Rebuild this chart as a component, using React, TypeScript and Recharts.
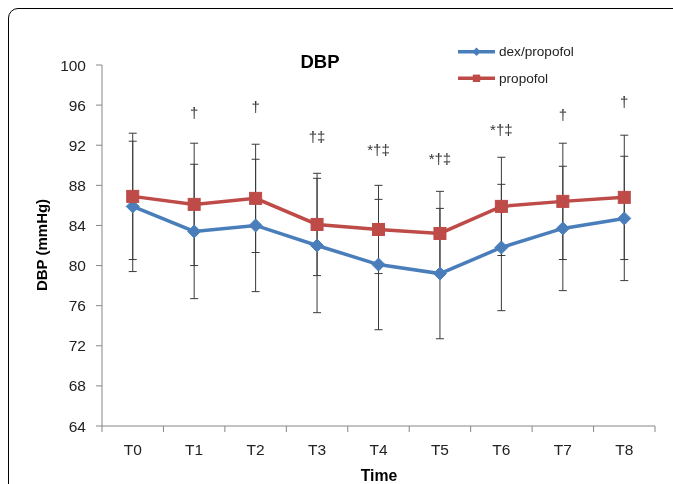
import { ComposedChart, Line, XAxis, YAxis, ErrorBar } from 'recharts';

const timeLabels = ['T0', 'T1', 'T2', 'T3', 'T4', 'T5', 'T6', 'T7', 'T8'];
const dexMean = [85.9, 83.4, 84.0, 82.0, 80.1, 79.2, 81.8, 83.7, 84.7];
const dexSd = [6.5, 6.7, 6.6, 6.7, 6.5, 6.5, 6.3, 6.2, 6.2];
const propMean = [86.9, 86.1, 86.7, 84.1, 83.6, 83.2, 85.9, 86.4, 86.8];
const propSd = [6.3, 6.1, 5.4, 5.1, 4.4, 4.2, 4.9, 5.8, 6.2];
const marks = ['', '†', '†', '†‡', '*†‡', '*†‡', '*†‡', '†', '†'];
const markY = [null, 95.2, 95.8, 92.8, 91.5, 90.7, 93.5, 95.0, 96.3];
const yTicks = [64, 68, 72, 76, 80, 84, 88, 92, 96, 100];
// integer ticks carry labels, half ticks are the category separators
const xTicks = [-0.5, 0, 0.5, 1, 1.5, 2, 2.5, 3, 3.5, 4, 4.5, 5, 5.5, 6, 6.5, 7, 7.5, 8, 8.5];

const BLUE = '#4a7ebb';
const RED = '#be4b48';
const AXIS = '#868686';
const FONT = '"Liberation Sans", Arial, sans-serif';

const data = timeLabels.map((t, i) => ({
    idx: i,
    label: t,
    dex: dexMean[i],
    dexSd: dexSd[i],
    prop: propMean[i],
    propSd: propSd[i],
    mark: marks[i],
    markY: markY[i],
}));

const XTick = (props: any) => {
    const { x, y, payload } = props;
    const v = payload.value;
    if (Number.isInteger(v)) {
        return (
            <text x={x} y={y} dy="0.71em" textAnchor="middle" fontSize={15.5} fill="#222" fontFamily={FONT}>
                {timeLabels[v]}
            </text>
        );
    }
    const y0 = y - 18;
    return <line x1={x} x2={x} y1={y0} y2={y0 + 6} stroke={AXIS} strokeWidth={1} />;
};

const Diamond = (props: any) => {
    const { cx, cy, index } = props;
    if (cx == null || cy == null) return <g key={index} />;
    return (
        <polygon
            key={index}
            points={`${cx},${cy - 6.5} ${cx + 6.5},${cy} ${cx},${cy + 6.5} ${cx - 6.5},${cy}`}
            fill={BLUE}
            stroke={BLUE}
        />
    );
};

const Square = (props: any) => {
    const { cx, cy, index } = props;
    if (cx == null || cy == null) return <g key={index} />;
    return <rect key={index} x={cx - 6} y={cy - 6} width={12} height={12} fill={RED} stroke={RED} />;
};

const MarkText = (props: any) => {
    const { cx, cy, index, payload } = props;
    if (cx == null || cy == null || !payload.mark) return <g key={index} />;
    return (
        <text key={index} x={cx} y={cy} dy="0.35em" textAnchor="middle" fontSize={15} fill="#333" fontFamily={FONT}>
            {payload.mark}
        </text>
    );
};

export default function App() {
    return (
        <div style={{ position: 'fixed', left: 0, top: 0, width: 673, height: 484, overflow: 'hidden' }}>
            <style>{`html, body { margin: 0; overflow: hidden; }`}</style>
            <div style={{ position: 'absolute', left: 8, top: 8, width: 665, height: 476, overflow: 'hidden' }}>
                <div
                    style={{
                        position: 'absolute',
                        left: 0,
                        top: 0,
                        width: 720,
                        height: 540,
                        border: '1.5px solid #000',
                        borderRadius: 10,
                        boxSizing: 'border-box',
                    }}
                />
                <div style={{ position: 'absolute', left: 0, top: 0 }}>
                    <ComposedChart width={665} height={476} data={data} margin={{ top: 57, right: 18, bottom: 28, left: 0 }}>
                        <XAxis
                            type="number"
                            dataKey="idx"
                            domain={[-0.5, 8.5]}
                            ticks={xTicks}
                            interval={0}
                            tick={<XTick />}
                            tickLine={false}
                            tickSize={6}
                            tickMargin={12}
                            axisLine={{ stroke: AXIS }}
                            height={30}
                        />
                        <YAxis
                            domain={[64, 100]}
                            ticks={yTicks}
                            interval={0}
                            width={94}
                            tickSize={6}
                            tickMargin={10}
                            axisLine={{ stroke: AXIS }}
                            tickLine={{ stroke: AXIS }}
                            tick={{ fill: '#222', fontSize: 15.5, fontFamily: FONT }}
                        />
                        {/* error bars first so every marker sits on top of them */}
                        <Line dataKey="prop" stroke="none" dot={false} activeDot={false} isAnimationActive={false}>
                            <ErrorBar dataKey="propSd" direction="y" width={4} stroke="#3a3a3a" strokeWidth={1} />
                        </Line>
                        <Line dataKey="dex" stroke="none" dot={false} activeDot={false} isAnimationActive={false}>
                            <ErrorBar dataKey="dexSd" direction="y" width={4} stroke="#3a3a3a" strokeWidth={1} />
                        </Line>
                        <Line dataKey="dex" stroke={BLUE} strokeWidth={3.5} dot={Diamond} activeDot={false} isAnimationActive={false} />
                        <Line dataKey="prop" stroke={RED} strokeWidth={3.5} dot={Square} activeDot={false} isAnimationActive={false} />
                        <Line dataKey="markY" stroke="none" dot={MarkText} activeDot={false} isAnimationActive={false} connectNulls={false} />
                    </ComposedChart>
                </div>
                <svg
                    width={665}
                    height={476}
                    style={{ position: 'absolute', left: 0, top: 0, pointerEvents: 'none' }}
                    fontFamily={FONT}
                >
                    <text x={312} y={60} textAnchor="middle" fontSize={18.5} fontWeight="bold" fill="#000">
                        DBP
                    </text>
                    <text
                        x={34}
                        y={237}
                        transform="rotate(-90 34 237)"
                        textAnchor="middle"
                        dy="0.35em"
                        fontSize={15}
                        fontWeight="bold"
                        fill="#000"
                    >
                        DBP (mmHg)
                    </text>
                    <text x={371} y={467} textAnchor="middle" dy="0.35em" fontSize={15.8} fontWeight="bold" fill="#000">
                        Time
                    </text>
                    <line x1={450} x2={487} y1={43.7} y2={43.7} stroke={BLUE} strokeWidth={3.5} />
                    <polygon points="468.5,39.5 472.7,43.7 468.5,47.9 464.3,43.7" fill={BLUE} />
                    <text x={491} y={43.7} dy="0.35em" fontSize={13.6} fill="#222">
                        dex/propofol
                    </text>
                    <line x1={450} x2={487} y1={70.3} y2={70.3} stroke={RED} strokeWidth={3.5} />
                    <rect x={464.8} y={66.6} width={7.4} height={7.4} fill={RED} />
                    <text x={491} y={70.3} dy="0.35em" fontSize={13.6} fill="#222">
                        propofol
                    </text>
                </svg>
            </div>
        </div>
    );
}
